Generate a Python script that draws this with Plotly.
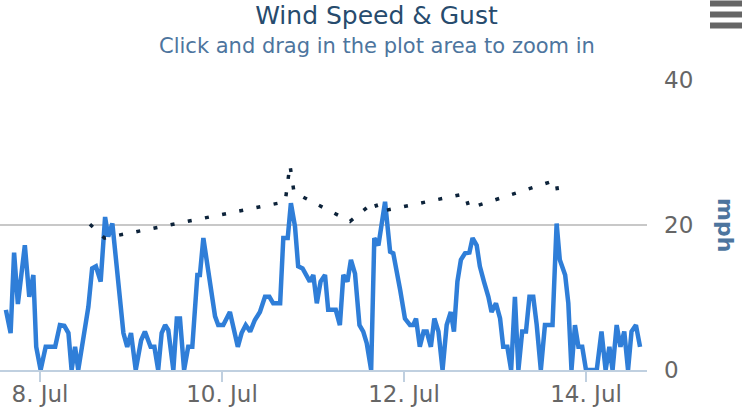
import plotly.graph_objects as go
import pandas as pd

# ---- data ----
speed_times = [
    "2013-07-07 15:00", "2013-07-07 16:15", "2013-07-07 17:10", "2013-07-07 18:10", "2013-07-07 20:00",
    "2013-07-07 21:10", "2013-07-07 22:15", "2013-07-07 23:00",
    "2013-07-08 00:10", "2013-07-08 01:30", "2013-07-08 04:00", "2013-07-08 05:15", "2013-07-08 06:25",
    "2013-07-08 07:30", "2013-07-08 08:20", "2013-07-08 09:15", "2013-07-08 10:05", "2013-07-08 12:45",
    "2013-07-08 13:45", "2013-07-08 14:45", "2013-07-08 16:00", "2013-07-08 17:10", "2013-07-08 18:00",
    "2013-07-08 19:05", "2013-07-08 22:00", "2013-07-08 23:00",
    "2013-07-09 00:00", "2013-07-09 01:15", "2013-07-09 02:40", "2013-07-09 03:40", "2013-07-09 05:10",
    "2013-07-09 06:10", "2013-07-09 07:10", "2013-07-09 08:05", "2013-07-09 09:00", "2013-07-09 09:50",
    "2013-07-09 11:10", "2013-07-09 12:05", "2013-07-09 12:55", "2013-07-09 14:00", "2013-07-09 15:05",
    "2013-07-09 16:10", "2013-07-09 17:30", "2013-07-09 18:10", "2013-07-09 19:05", "2013-07-09 20:25",
    "2013-07-09 22:10", "2013-07-09 23:00",
    "2013-07-10 00:20", "2013-07-10 02:05", "2013-07-10 04:10", "2013-07-10 05:10", "2013-07-10 06:15",
    "2013-07-10 07:25", "2013-07-10 08:40", "2013-07-10 10:00", "2013-07-10 11:20", "2013-07-10 12:30",
    "2013-07-10 13:30", "2013-07-10 15:20", "2013-07-10 16:10", "2013-07-10 17:20", "2013-07-10 18:10",
    "2013-07-10 19:15", "2013-07-10 20:05", "2013-07-10 21:15", "2013-07-10 22:20", "2013-07-10 23:10",
    "2013-07-11 00:05", "2013-07-11 01:00", "2013-07-11 02:00", "2013-07-11 03:10", "2013-07-11 04:00",
    "2013-07-11 06:00", "2013-07-11 07:05", "2013-07-11 08:00", "2013-07-11 09:05", "2013-07-11 10:00",
    "2013-07-11 11:05", "2013-07-11 12:15", "2013-07-11 13:15", "2013-07-11 14:10", "2013-07-11 15:20",
    "2013-07-11 16:10", "2013-07-11 17:15", "2013-07-11 19:00", "2013-07-11 20:20", "2013-07-11 21:10",
    "2013-07-11 23:00",
    "2013-07-12 00:15", "2013-07-12 01:35", "2013-07-12 02:25", "2013-07-12 03:10", "2013-07-12 04:10",
    "2013-07-12 05:10", "2013-07-12 06:00", "2013-07-12 07:05", "2013-07-12 08:00", "2013-07-12 09:05",
    "2013-07-12 10:10", "2013-07-12 11:15", "2013-07-12 12:20", "2013-07-12 13:10", "2013-07-12 14:05",
    "2013-07-12 15:00", "2013-07-12 16:05", "2013-07-12 17:15", "2013-07-12 18:05", "2013-07-12 19:10",
    "2013-07-12 20:00", "2013-07-12 21:05", "2013-07-12 22:15", "2013-07-12 23:05",
    "2013-07-13 00:15", "2013-07-13 01:20", "2013-07-13 02:10", "2013-07-13 03:15", "2013-07-13 04:15",
    "2013-07-13 05:15", "2013-07-13 06:10", "2013-07-13 07:10", "2013-07-13 08:10", "2013-07-13 09:05",
    "2013-07-13 10:05", "2013-07-13 11:00", "2013-07-13 12:05", "2013-07-13 13:10", "2013-07-13 15:10",
    "2013-07-13 16:15", "2013-07-13 17:05", "2013-07-13 18:30", "2013-07-13 19:20", "2013-07-13 20:10",
    "2013-07-13 21:05", "2013-07-13 22:00", "2013-07-13 23:00",
    "2013-07-14 00:00", "2013-07-14 02:50", "2013-07-14 04:05", "2013-07-14 05:10", "2013-07-14 06:10",
    "2013-07-14 07:00", "2013-07-14 08:05", "2013-07-14 09:05", "2013-07-14 10:05", "2013-07-14 11:05",
    "2013-07-14 12:00", "2013-07-14 13:10", "2013-07-14 14:15",
]
speed_mph = [
    8.3, 5.1, 16.2, 9.1, 17.2, 10.1, 13.1, 3.2,
    0, 3.2, 3.2, 6.2, 6.1, 5.1, 0, 3.2, 0, 8.7, 14.0, 14.3, 12.2, 21.1, 18.4, 20.2, 5.1, 3.2,
    5.1, 0, 4.1, 5.3, 3.2, 3.2, 0, 5.1, 6.2, 5.5, 0, 7.1, 7.1, 0, 3.2, 3.2, 13.1, 13.1, 18.2, 13.6, 7.4, 6.2,
    6.2, 8.0, 3.2, 5.1, 6.2, 5.3, 6.9, 8.0, 10.1, 10.1, 9.2, 9.2, 18.2, 18.2, 23.0, 19.8, 14.3, 14.0, 12.9, 12.2,
    13.1, 9.2, 12.2, 13.1, 8.3, 8.3, 6.2, 13.1, 12.2, 15.2, 13.3, 6.2, 5.3, 3.7, 0, 18.2, 17.2, 23.2, 16.3, 16.1, 11.0,
    7.1, 6.2, 6.2, 7.1, 3.2, 5.3, 5.3, 3.2, 7.1, 5.3, 0, 6.2, 8.0, 5.3, 12.2, 15.2, 16.1, 16.2, 18.2, 17.2, 14.3, 12.2, 10.1, 8.0,
    9.2, 7.1, 3.2, 3.2, 0, 10.1, 0, 5.3, 5.3, 10.1, 10.1, 6.2, 0, 6.2, 6.2, 20.2, 15.2, 13.1, 9.2, 0, 6.2, 3.2, 3.2,
    0, 0, 5.3, 0, 3.2, 0, 6.2, 3.2, 5.3, 0, 5.3, 6.2, 3.2,
]

gust_times = [
    "2013-07-08 13:10", "2013-07-08 17:00", "2013-07-10 16:40", "2013-07-10 17:55",
    "2013-07-10 19:00", "2013-07-11 09:45", "2013-07-11 16:20", "2013-07-11 17:10",
    "2013-07-12 16:05", "2013-07-12 17:10", "2013-07-13 16:05", "2013-07-13 16:45",
]
gust_mph = [20.1, 18.2, 23.2, 28.3, 24.5, 20.5, 23.3, 21.8, 24.3, 22.3, 26.2, 23.7]

x_tick_vals = ["2013-07-08", "2013-07-10", "2013-07-12", "2013-07-14"]
x_tick_text = ["8. Jul", "10. Jul", "12. Jul", "14. Jul"]
y_tick_vals = [0, 20, 40]

FONT = "DejaVu Sans"

fig = go.Figure()
fig.add_trace(go.Scatter(
    x=pd.to_datetime(speed_times), y=speed_mph, mode="lines", name="Wind Speed",
    line=dict(color="#2f7ed8", width=4.5),
))
fig.add_trace(go.Scatter(
    x=pd.to_datetime(gust_times), y=gust_mph, mode="lines", name="Wind Gust",
    line=dict(color="#0d233a", width=3.5, dash="4px,13.5px"),
))

W, H = 753, 414
L, R, T, B = 0, 106, 80, 44
pw = W - L - R
ph = H - T - B

def px_x(p):
    return (p - L) / pw

def px_y(p):
    return (H - B - p) / ph

fig.update_layout(
    width=W, height=H,
    margin=dict(l=L, r=R, t=T, b=B, pad=0),
    paper_bgcolor="white", plot_bgcolor="white",
    showlegend=False,
    font=dict(family=FONT, color="#666666"),
    title=dict(text="Wind Speed & Gust", x=0.5, xref="container", xanchor="center",
               y=1 - 15 / H, yref="container", yanchor="middle",
               font=dict(family=FONT, size=25, color="#274b6d")),
    xaxis=dict(
        type="date",
        range=["2013-07-07 13:27", "2013-07-14 16:05"],
        tickmode="array", tickvals=x_tick_vals, ticktext=x_tick_text,
        showgrid=False, zeroline=False,
        showline=True, linecolor="#C0D0E0", linewidth=2,
        ticks="outside", ticklen=10, tickwidth=2, tickcolor="#C0D0E0",
        ticklabelstandoff=-8,
        tickfont=dict(family=FONT, size=23, color="#666666"),
        fixedrange=True,
    ),
    yaxis=dict(
        side="right", range=[0, 40],
        tickmode="array", tickvals=y_tick_vals,
        showgrid=True, gridcolor="#C8C8C8", gridwidth=2,
        zeroline=False, showline=False, ticks="",
        ticklabelstandoff=16,
        tickfont=dict(family=FONT, size=23, color="#666666"),
        fixedrange=True,
    ),
)

fig.add_annotation(
    text="Click and drag in the plot area to zoom in",
    xref="paper", yref="paper", x=px_x(376.5), y=px_y(46),
    xanchor="center", yanchor="middle", showarrow=False,
    font=dict(family=FONT, size=21, color="#4d759e"),
)
fig.add_annotation(
    text="<b>mph</b>", textangle=90,
    xref="paper", yref="paper", x=px_x(726), y=px_y(225),
    xanchor="center", yanchor="middle", showarrow=False,
    font=dict(family=FONT, size=22, color="#4d759e"),
)

# export (hamburger) button
for yc in (3.5, 14.5, 25.5):
    fig.add_shape(type="line", xref="paper", yref="paper",
                  x0=px_x(710), x1=px_x(742), y0=px_y(yc), y1=px_y(yc),
                  line=dict(color="#666666", width=6))

fig.write_html(
    "out.html",
    config={"displayModeBar": False},
    post_script="document.body.style.margin='0';document.body.style.overflow='hidden';",
)
